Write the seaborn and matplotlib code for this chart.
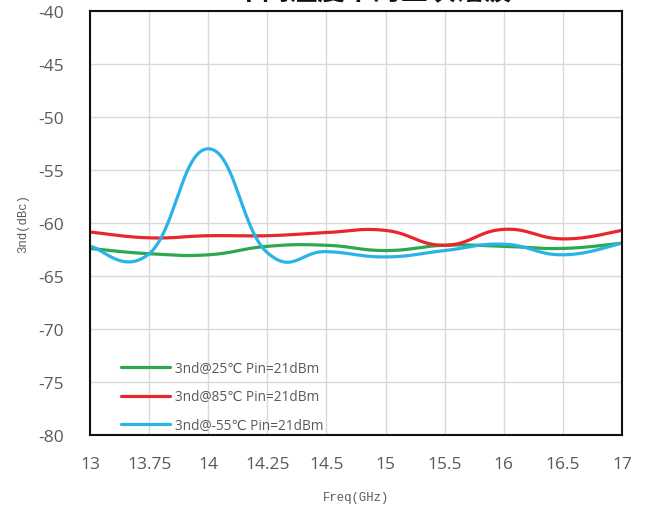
import numpy as np
import pandas as pd
import matplotlib
matplotlib.use("Agg")
import matplotlib.pyplot as plt
import seaborn as sns

# Frequency points (GHz) and third-harmonic levels (dBc)
freq_labels = ["13", "13.75", "14", "14.25", "14.5", "15", "15.5", "16", "16.5", "17"]
h3_25c = [-62.4, -62.9, -63.0, -62.2, -62.1, -62.6, -62.1, -62.2, -62.4, -61.9]
h3_85c = [-60.85, -61.4, -61.2, -61.2, -60.9, -60.7, -62.1, -60.6, -61.5, -60.7]
h3_m55c = [-62.2, -62.9, -53.0, -62.8, -62.7, -63.2, -62.6, -62.0, -63.0, -61.9]

series_names = ["3nd@25℃ Pin=21dBm", "3nd@85℃ Pin=21dBm", "3nd@-55℃ Pin=21dBm"]
series_values = [h3_25c, h3_85c, h3_m55c]
colors = ["#2ca84e", "#e8262b", "#2ab3e6"]

y_ticks = [-80, -75, -70, -65, -60, -55, -50, -45, -40]

# axes box in figure pixels
AX_LEFT, AX_RIGHT, AX_TOP, AX_BOTTOM = 90, 622, 12, 436
Y_MIN, Y_MAX = -80, -40


def smooth_curve(y, k=0.22, steps=50):
    """Smoothed line: cubic Bezier segments through every point, with control
    points set along the neighbour chord (P[i+1] - P[i-1]) * k."""
    y = np.asarray(y, dtype=float)
    n = len(y)
    P = np.column_stack([np.arange(n, dtype=float), y])
    P = np.vstack([P[0], P, P[-1]])
    out = []
    for i in range(n - 1):
        p0, p1, p2, p3 = P[i], P[i + 1], P[i + 2], P[i + 3]
        c1 = p1 + (p2 - p0) * k
        c2 = p2 - (p3 - p1) * k
        t = np.linspace(0, 1, steps, endpoint=(i == n - 2))[:, None]
        seg = ((1 - t) ** 3) * p1 + 3 * ((1 - t) ** 2) * t * c1 + 3 * (1 - t) * t ** 2 * c2 + t ** 3 * p2
        out.append(seg)
    seg = np.vstack(out)
    return seg[:, 0], seg[:, 1]


frames = []
for name, vals in zip(series_names, series_values):
    sx, sy = smooth_curve(vals)
    frames.append(pd.DataFrame({"idx": sx, "level": sy, "series": name}))
df = pd.concat(frames, ignore_index=True)

sns.set_theme(style="white")
plt.rcParams["font.family"] = ["Noto Sans CJK SC", "DejaVu Sans"]

fig = plt.figure(figsize=(6.46, 5.10), dpi=100)
ax = fig.add_axes([AX_LEFT / 646, 1 - AX_BOTTOM / 510,
                   (AX_RIGHT - AX_LEFT) / 646, (AX_BOTTOM - AX_TOP) / 510])

sns.lineplot(data=df, x="idx", y="level", hue="series", hue_order=series_names,
             palette=colors, linewidth=2.3, sort=False, estimator=None, ax=ax)

ax.set_xlim(0, len(freq_labels) - 1)
ax.set_ylim(Y_MIN, Y_MAX)
ax.set_xticks(range(len(freq_labels)))
ax.set_xticklabels(freq_labels)
ax.set_yticks(y_ticks)
ax.set_yticklabels([str(v) for v in y_ticks])
ax.tick_params(axis="both", length=0, labelsize=12.5, labelcolor="#595959")
ax.tick_params(axis="x", pad=15)
ax.tick_params(axis="y", pad=19)
for lab in ax.get_xticklabels() + ax.get_yticklabels():
    lab.set_family(["Open Sans", "DejaVu Sans"])

ax.grid(True, color="#d9d9d9", linewidth=1.0)
ax.set_axisbelow(True)
for side in ["left", "bottom", "right", "top"]:
    ax.spines[side].set_visible(True)
    ax.spines[side].set_color("#111111")
    ax.spines[side].set_linewidth(1.5)

ax.set_xlabel("Freq(GHz)", fontsize=8.8, color="#595959", family=["Liberation Mono", "DejaVu Sans"], labelpad=14)
ax.set_ylabel("3nd(dBc)", fontsize=8.8, color="#595959", family=["Liberation Mono", "DejaVu Sans"], labelpad=6)

leg = ax.legend(loc="lower left", bbox_to_anchor=(0.035, -0.024), frameon=False,
                fontsize=9.8, handlelength=3.6, handletextpad=0.4, labelspacing=1.0)
for txt in leg.get_texts():
    txt.set_color("#595959")
    txt.set_family(["Open Sans", "DejaVu Sans"])

fig.text(373 / 646, 1 + 8 / 510, "不同温度下的三次谐波", ha="center", va="center",
         fontsize=20, fontweight="bold", color="#111111",
         family=["Noto Sans CJK SC", "DejaVu Sans"])

fig.savefig("out.png", dpi=100)
